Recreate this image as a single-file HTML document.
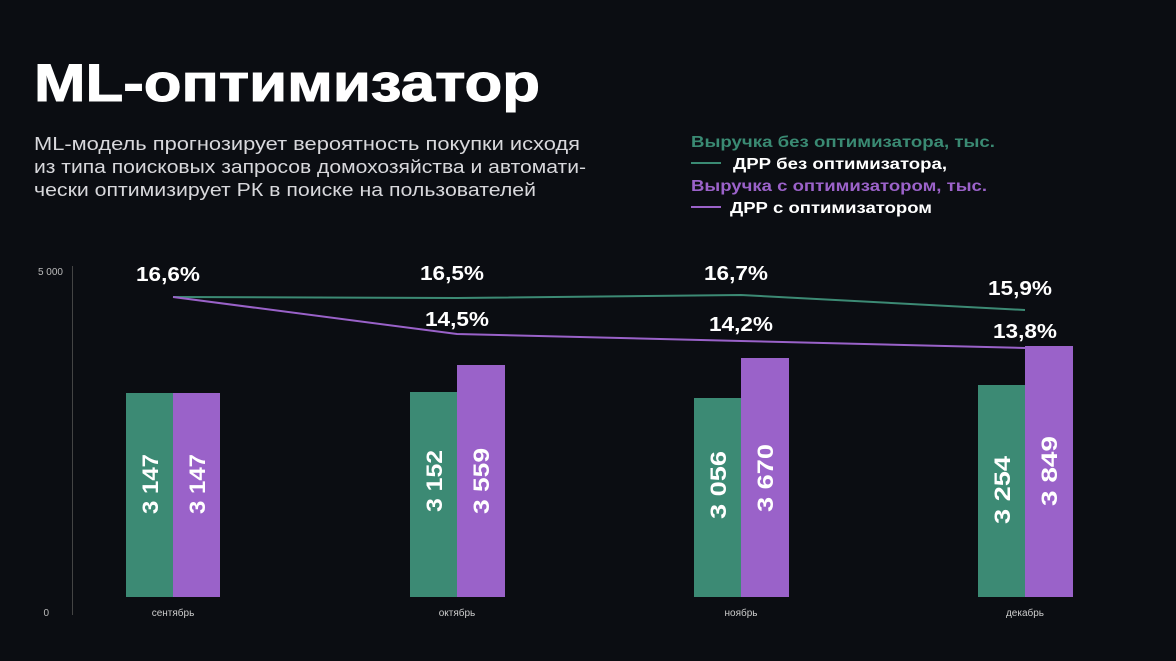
<!DOCTYPE html>
<html><head><meta charset="utf-8"><style>
body{margin:0;background:#0b0d12;width:1176px;height:661px;overflow:hidden;font-family:"Liberation Sans",sans-serif;}
</style></head><body>
<svg width="1176" height="661" xmlns="http://www.w3.org/2000/svg" style="position:absolute;left:0;top:0">
<rect width="1176" height="661" fill="#0b0d12"/>
<text x="34" y="101" font-size="53" font-weight="bold" fill="#fff" stroke="#fff" stroke-width="1" textLength="506" lengthAdjust="spacingAndGlyphs" font-family="Liberation Sans, sans-serif">ML-оптимизатор</text>
<g font-size="18" fill="#d8d8dc" font-family="Liberation Sans, sans-serif">
<text x="34" y="150" textLength="546" lengthAdjust="spacingAndGlyphs">ML-модель прогнозирует вероятность покупки исходя</text>
<text x="34" y="173" textLength="552" lengthAdjust="spacingAndGlyphs">из типа поисковых запросов домохозяйства и автомати-</text>
<text x="34" y="196" textLength="502" lengthAdjust="spacingAndGlyphs">чески оптимизирует РК в поиске на пользователей</text>
</g>
<g font-size="16" font-weight="bold" font-family="Liberation Sans, sans-serif">
<text x="691" y="147" fill="#3a8a73" textLength="304" lengthAdjust="spacingAndGlyphs">Выручка без оптимизатора, тыс.</text>
<line x1="691" y1="163" x2="721" y2="163" stroke="#3a8a73" stroke-width="2"/>
<text x="733" y="169" fill="#fff" textLength="214" lengthAdjust="spacingAndGlyphs">ДРР без оптимизатора,</text>
<text x="691" y="191" fill="#9b62c9" textLength="296" lengthAdjust="spacingAndGlyphs">Выручка с оптимизатором, тыс.</text>
<line x1="691" y1="207" x2="721" y2="207" stroke="#9b62c9" stroke-width="2"/>
<text x="730" y="213" fill="#fff" textLength="202" lengthAdjust="spacingAndGlyphs">ДРР с оптимизатором</text>
</g>
<line x1="72.5" y1="266" x2="72.5" y2="615" stroke="#444" stroke-width="1"/>
<text x="63" y="275" fill="#bbb" font-size="10" text-anchor="end">5 000</text>
<text x="49" y="616" fill="#bbb" font-size="10" text-anchor="end">0</text>
<g>
<rect x="126" y="393" width="47" height="204" fill="#3c8a74"/><rect x="173" y="393" width="47" height="204" fill="#9a62c9"/>
<rect x="410" y="392" width="47" height="205" fill="#3c8a74"/><rect x="457" y="365" width="48" height="232" fill="#9a62c9"/>
<rect x="694" y="398" width="47" height="199" fill="#3c8a74"/><rect x="741" y="358" width="48" height="239" fill="#9a62c9"/>
<rect x="978" y="385" width="47" height="212" fill="#3c8a74"/><rect x="1025" y="346" width="48" height="251" fill="#9a62c9"/>
</g>
<g fill="#fff" font-size="22" font-weight="bold" text-anchor="middle">
<text transform="translate(158,484) rotate(-90)" textLength="60" lengthAdjust="spacingAndGlyphs">3 147</text>
<text transform="translate(205,484) rotate(-90)" textLength="60" lengthAdjust="spacingAndGlyphs">3 147</text>
<text transform="translate(442,481) rotate(-90)" textLength="62" lengthAdjust="spacingAndGlyphs">3 152</text>
<text transform="translate(489,481) rotate(-90)" textLength="66" lengthAdjust="spacingAndGlyphs">3 559</text>
<text transform="translate(726,485) rotate(-90)" textLength="68" lengthAdjust="spacingAndGlyphs">3 056</text>
<text transform="translate(773,478) rotate(-90)" textLength="68" lengthAdjust="spacingAndGlyphs">3 670</text>
<text transform="translate(1010,490) rotate(-90)" textLength="68" lengthAdjust="spacingAndGlyphs">3 254</text>
<text transform="translate(1057,471) rotate(-90)" textLength="70" lengthAdjust="spacingAndGlyphs">3 849</text>
</g>
<g fill="#ccc" font-size="10" text-anchor="middle">
<text x="173" y="616">сентябрь</text><text x="457" y="616">октябрь</text><text x="741" y="616">ноябрь</text><text x="1025" y="616">декабрь</text>
</g>
<polyline points="173,297 457,298 741,295 1025,310" fill="none" stroke="#3c8a74" stroke-width="2"/>
<polyline points="173,297 457,334 741,341 1025,348" fill="none" stroke="#9a62c9" stroke-width="2"/>
<g fill="#fff" font-size="20" font-weight="bold" text-anchor="middle">
<text x="168" y="281" textLength="64" lengthAdjust="spacingAndGlyphs">16,6%</text><text x="452" y="280" textLength="64" lengthAdjust="spacingAndGlyphs">16,5%</text><text x="736" y="280" textLength="64" lengthAdjust="spacingAndGlyphs">16,7%</text><text x="1020" y="295" textLength="64" lengthAdjust="spacingAndGlyphs">15,9%</text>
<text x="457" y="326" textLength="64" lengthAdjust="spacingAndGlyphs">14,5%</text><text x="741" y="331" textLength="64" lengthAdjust="spacingAndGlyphs">14,2%</text><text x="1025" y="338" textLength="64" lengthAdjust="spacingAndGlyphs">13,8%</text>
</g>
</svg>
</body></html>
